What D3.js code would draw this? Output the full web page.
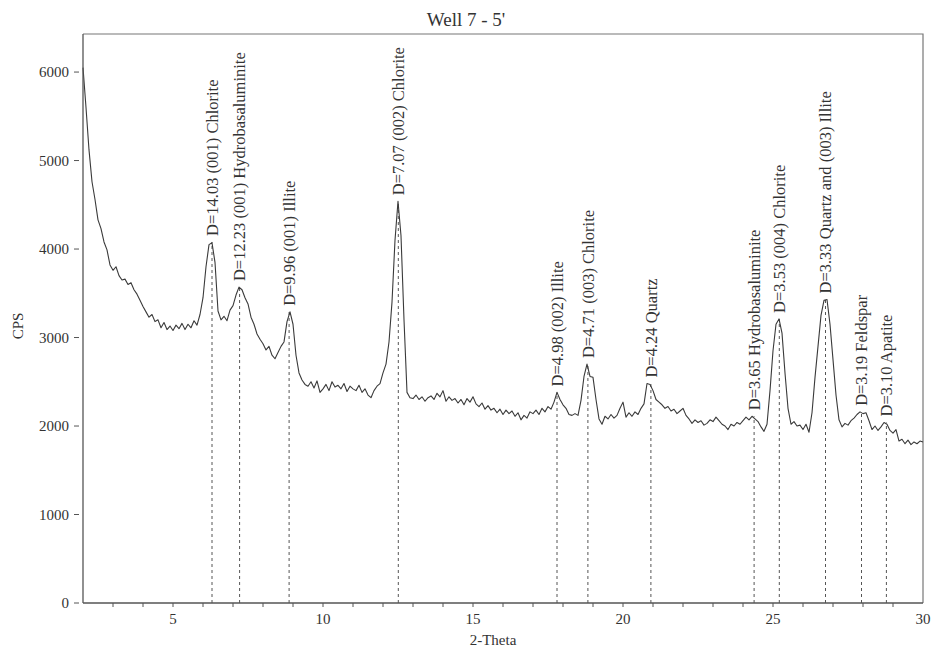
<!DOCTYPE html>
<html>
<head>
<meta charset="utf-8">
<script src="https://cdn.jsdelivr.net/npm/d3@7"></script>
<style>
  body { margin: 0; background: #fff; }
  text { font-family: "Liberation Serif", "Times New Roman", serif; fill: #333; }
</style>
</head>
<body>
<div id="chart"></div>
<script>
// step scan, 2-theta from 2 to 30 in 0.1 steps
var scanStart = 2, scanStep = 0.1

var cps = [
  6050, 5600, 5120, 4760, 4560, 4330, 4230, 4080, 3990, 3820, // 2
  3760, 3800, 3700, 3650, 3660, 3600, 3620, 3540, 3490, 3420, // 3
  3350, 3290, 3230, 3260, 3180, 3200, 3110, 3170, 3090, 3130, // 4
  3080, 3140, 3100, 3160, 3090, 3150, 3110, 3190, 3140, 3260, // 5
  3450, 3800, 4050, 4070, 3850, 3300, 3200, 3240, 3190, 3310, // 6
  3360, 3480, 3570, 3540, 3450, 3380, 3230, 3150, 3040, 2980, // 7
  2930, 2860, 2900, 2800, 2760, 2830, 2900, 2950, 3180, 3290, // 8
  3150, 2800, 2600, 2520, 2470, 2450, 2500, 2430, 2510, 2380, // 9
  2420, 2470, 2400, 2500, 2440, 2460, 2420, 2480, 2390, 2450, // 10
  2420, 2400, 2460, 2380, 2420, 2350, 2320, 2400, 2450, 2480, // 11
  2600, 2700, 2950, 3400, 4100, 4540, 4150, 3200, 2380, 2320, // 12
  2310, 2350, 2300, 2330, 2280, 2320, 2340, 2300, 2370, 2330, // 13
  2400, 2280, 2330, 2290, 2310, 2260, 2300, 2240, 2310, 2270, // 14
  2330, 2250, 2220, 2260, 2190, 2230, 2180, 2200, 2150, 2190, // 15
  2130, 2180, 2140, 2170, 2110, 2150, 2070, 2120, 2090, 2160, // 16
  2140, 2180, 2130, 2200, 2160, 2220, 2190, 2270, 2380, 2300, // 17
  2240, 2200, 2130, 2120, 2140, 2120, 2290, 2560, 2700, 2560, // 18
  2550, 2300, 2080, 2020, 2110, 2080, 2130, 2090, 2120, 2200, // 19
  2270, 2100, 2150, 2110, 2160, 2130, 2200, 2250, 2480, 2470, // 20
  2400, 2300, 2270, 2240, 2200, 2220, 2170, 2190, 2140, 2170, // 21
  2200, 2120, 2080, 2030, 2070, 2040, 2060, 2010, 2030, 2070, // 22
  2050, 2100, 2060, 2020, 2000, 1960, 2020, 2000, 2040, 2020, // 23
  2060, 2100, 2070, 2110, 2080, 2050, 1990, 1940, 2020, 2400, // 24
  2850, 3150, 3210, 3050, 2600, 2200, 2020, 2050, 2000, 2010, // 25
  1960, 2020, 1930, 2150, 2550, 2900, 3250, 3420, 3430, 3150, // 26
  2750, 2350, 2070, 1990, 2030, 2010, 2060, 2090, 2130, 2160, // 27
  2140, 2150, 2060, 1960, 2000, 1950, 1990, 2040, 2020, 1950, // 28
  1920, 1960, 1830, 1850, 1800, 1840, 1790, 1820, 1800, 1830, // 29
  1820
]

var peakTheta = [6.30, 7.22, 8.87, 12.51, 17.80, 18.83, 20.93, 24.37, 25.21, 26.75, 27.95, 28.78]
var peakCps = [4080, 3570, 3290, 4540, 2380, 2700, 2480, 2110, 3210, 3430, 2160, 2040]
var peakLabels = [
  "D=14.03 (001) Chlorite",
  "D=12.23 (001) Hydrobasaluminite",
  "D=9.96 (001) Illite",
  "D=7.07 (002) Chlorite",
  "D=4.98 (002) Illite",
  "D=4.71 (003) Chlorite",
  "D=4.24 Quartz",
  "D=3.65 Hydrobasaluminite",
  "D=3.53 (004) Chlorite",
  "D=3.33 Quartz and (003) Illite",
  "D=3.19 Feldspar",
  "D=3.10 Apatite"
]

var xTicks = [5, 10, 15, 20, 25, 30]
var xMinor = d3.range(3, 30, 1)
var yTicks = [0, 1000, 2000, 3000, 4000, 5000, 6000]

var width = 933,
  height = 653

var x = d3.scaleLinear().domain([2, 30]).range([83, 923])
var y = d3.scaleLinear().domain([0, 6430]).range([603, 34])

var svg = d3.select("#chart")
  .append("svg")
  .attr("width", width)
  .attr("height", height)

var points = cps.map(function (c, i) { return { t: scanStart + i * scanStep, c: c } })

// frame
svg.append("path")
  .attr("d", "M" + x(2) + "," + y(6430) + "H" + x(30) + "V" + y(0))
  .attr("fill", "none")
  .attr("stroke", "#777")
  .attr("stroke-width", 1.2)

// dashed peak markers
svg.append("g")
  .selectAll("line")
  .data(peakTheta)
  .enter()
  .append("line")
  .attr("x1", function (d) { return x(d) })
  .attr("x2", function (d) { return x(d) })
  .attr("y1", y(0))
  .attr("y2", function (d, i) { return y(peakCps[i]) })
  .attr("stroke", "#555")
  .attr("stroke-width", 1)
  .attr("stroke-dasharray", "3,3")

// pattern
var line = d3.line()
  .x(function (d) { return x(d.t) })
  .y(function (d) { return y(d.c) })

svg.append("path")
  .datum(points)
  .attr("d", line)
  .attr("fill", "none")
  .attr("stroke", "#3a3a3a")
  .attr("stroke-width", 1.1)
  .attr("stroke-linejoin", "round")

// peak labels
svg.append("g")
  .selectAll("text")
  .data(peakTheta)
  .enter()
  .append("text")
  .attr("transform", function (d, i) {
    return "translate(" + x(d) + "," + (y(peakCps[i]) - 6) + ") rotate(-90)"
  })
  .attr("dy", "0.35em")
  .style("font-size", "16.5px")
  .text(function (d, i) { return peakLabels[i] })

// axes
var xAxis = svg.append("g")
xAxis.append("line")
  .attr("x1", x(2)).attr("x2", x(30))
  .attr("y1", y(0)).attr("y2", y(0))
  .attr("stroke", "#555").attr("stroke-width", 1.3)
xAxis.selectAll(".minor")
  .data(xMinor)
  .enter()
  .append("line")
  .attr("x1", function (d) { return x(d) })
  .attr("x2", function (d) { return x(d) })
  .attr("y1", y(0))
  .attr("y2", y(0) + 4)
  .attr("stroke", "#555")
xAxis.selectAll("text")
  .data(xTicks)
  .enter()
  .append("text")
  .attr("x", function (d) { return x(d) })
  .attr("y", 624)
  .attr("text-anchor", "middle")
  .style("font-size", "15px")
  .text(function (d) { return d })

var yAxis = svg.append("g")
yAxis.append("line")
  .attr("x1", x(2)).attr("x2", x(2))
  .attr("y1", y(0)).attr("y2", y(6430))
  .attr("stroke", "#555").attr("stroke-width", 1.3)
yAxis.selectAll("line.tick")
  .data(yTicks)
  .enter()
  .append("line")
  .attr("class", "tick")
  .attr("x1", 74)
  .attr("x2", 79)
  .attr("y1", function (d) { return y(d) })
  .attr("y2", function (d) { return y(d) })
  .attr("stroke", "#555")
yAxis.selectAll("text")
  .data(yTicks)
  .enter()
  .append("text")
  .attr("x", 69)
  .attr("y", function (d) { return y(d) })
  .attr("dy", "0.35em")
  .attr("text-anchor", "end")
  .style("font-size", "15px")
  .text(function (d) { return d })

// titles
svg.append("text")
  .attr("x", 466)
  .attr("y", 26)
  .attr("text-anchor", "middle")
  .style("font-size", "19px")
  .text("Well 7 - 5'")

svg.append("text")
  .attr("x", 493)
  .attr("y", 645)
  .attr("text-anchor", "middle")
  .style("font-size", "15px")
  .text("2-Theta")

svg.append("text")
  .attr("transform", "translate(18,326) rotate(-90)")
  .attr("dy", "0.35em")
  .attr("text-anchor", "middle")
  .style("font-size", "15px")
  .text("CPS")
</script>
</body>
</html>
